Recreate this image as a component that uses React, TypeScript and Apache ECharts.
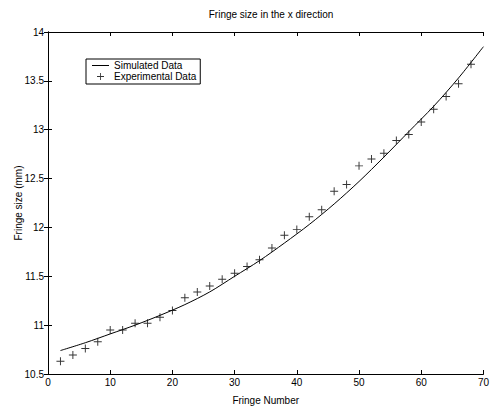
import React, { useEffect, useRef } from "react";
import * as echarts from "echarts";

const TITLE = "Fringe size in the x direction";
const X_NAME = "Fringe Number";
const Y_NAME = "Fringe size (mm)";

// Simulated curve
const simX = [2, 6, 10, 14, 18, 22, 26, 30, 34, 38, 42, 46, 50, 54, 58, 62, 66, 70];
const simY = [10.74, 10.82, 10.91, 11.0, 11.1, 11.21, 11.34, 11.5, 11.66, 11.84, 12.03, 12.24, 12.47, 12.72, 12.98, 13.24, 13.53, 13.85];

// Experimental points
const expX = [2, 4, 6, 8, 10, 12, 14, 16, 18, 20, 22, 24, 26, 28, 30, 32, 34, 36, 38, 40, 42, 44, 46, 48, 50, 52, 54, 56, 58, 60, 62, 64, 66, 68];
const expY = [10.63, 10.695, 10.76, 10.83, 10.95, 10.95, 11.02, 11.02, 11.08, 11.15, 11.28, 11.34, 11.4, 11.47, 11.53, 11.6, 11.67, 11.79, 11.92, 11.98, 12.11, 12.18, 12.37, 12.44, 12.63, 12.7, 12.76, 12.89, 12.95, 13.08, 13.21, 13.34, 13.47, 13.67];

const PLUS = "path://M4.4,0h1.2v10h-1.2z M0,4.4h10v1.2h-10z";
const LINE_ICON = "path://M0,0h17v1h-17z";
const FONT = "Liberation Sans, Arial, Helvetica, sans-serif";

export default function App() {
  const ref = useRef<HTMLDivElement>(null);
  useEffect(() => {
    if (!ref.current) return;
    const chart = echarts.init(ref.current, undefined, { renderer: "svg" });
    const axisCommon = {
      axisLine: { show: true, lineStyle: { color: "#000", width: 1 } },
      axisTick: { show: true, inside: true, length: 4, lineStyle: { color: "#000" } },
      splitLine: { show: false },
    };
    chart.setOption({
      animation: false,
      backgroundColor: "#fff",
      textStyle: { fontFamily: FONT },
      title: {
        text: TITLE,
        left: 266,
        textAlign: "center",
        top: 4,
        textStyle: { fontSize: 10, fontWeight: "normal", color: "#000", fontFamily: FONT },
      },
      grid: { left: 48, right: 3, top: 32, bottom: 31, containLabel: false },
      legend: {
        orient: "vertical",
        left: 86,
        top: 59,
        padding: [1, 4, 2, 6],
        itemGap: 0,
        itemWidth: 17,
        itemHeight: 7,
        borderColor: "#000",
        borderWidth: 1,
        backgroundColor: "#fff",
        textStyle: { fontSize: 10, color: "#000", fontFamily: FONT, lineHeight: 11 },
        data: [
          { name: "Simulated Data", icon: LINE_ICON, itemStyle: { color: "#000" } },
          { name: "Experimental Data", icon: PLUS, itemStyle: { color: "#000" } },
        ],
      },
      xAxis: [
        {
          type: "value",
          min: 0,
          max: 70,
          interval: 10,
          name: X_NAME,
          nameLocation: "middle",
          nameGap: 21,
          nameMoveOverlap: false,
          nameTextStyle: { fontSize: 10, color: "#000", fontFamily: FONT },
          axisLabel: { fontSize: 10, color: "#000", margin: 3, fontFamily: FONT },
          ...axisCommon,
        },
        {
          type: "value",
          position: "top",
          min: 0,
          max: 70,
          interval: 10,
          axisLabel: { show: false },
          ...axisCommon,
        },
      ],
      yAxis: [
        {
          type: "value",
          min: 10.5,
          max: 14,
          interval: 0.5,
          name: Y_NAME,
          nameLocation: "middle",
          nameGap: 25,
          nameMoveOverlap: false,
          nameTextStyle: { fontSize: 10, color: "#000", fontFamily: FONT },
          axisLabel: { fontSize: 10, color: "#000", margin: 4, fontFamily: FONT },
          ...axisCommon,
        },
        {
          type: "value",
          position: "right",
          min: 10.5,
          max: 14,
          interval: 0.5,
          axisLabel: { show: false },
          ...axisCommon,
        },
      ],
      series: [
        {
          name: "Simulated Data",
          type: "line",
          data: simX.map((x, i) => [x, simY[i]]),
          smooth: 0.3,
          symbol: "none",
          showSymbol: false,
          lineStyle: { color: "#000", width: 1 },
          itemStyle: { color: "#000" },
        },
        {
          name: "Experimental Data",
          type: "scatter",
          data: expX.map((x, i) => [x, expY[i]]),
          symbol: PLUS,
          symbolSize: 8,
          itemStyle: { color: "#000" },
        },
      ],
    });
    return () => chart.dispose();
  }, []);
  return (
    <div
      ref={ref}
      style={{ position: "fixed", left: 0, top: 0, width: 492, height: 410 }}
    />
  );
}
